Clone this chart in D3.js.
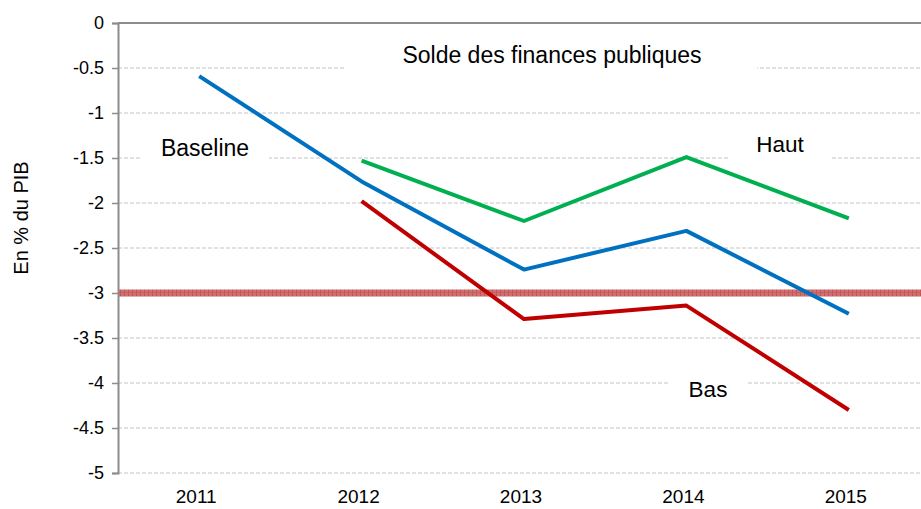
<!DOCTYPE html>
<html>
<head>
<meta charset="utf-8">
<script src="https://cdn.jsdelivr.net/npm/d3@7"></script>
<style>
  body { margin: 0; background: #fff; }
  svg { display: block; font-family: "Liberation Sans", Arial, sans-serif; }
</style>
</head>
<body>
<svg id="chart"></svg>
<script>
const years = ["2011", "2012", "2013", "2014", "2015"];
const baseline = [-0.59, -1.76, -2.74, -2.31, -3.23];
const haut = [null, -1.53, -2.2, -1.49, -2.17];
const bas = [null, -1.98, -3.29, -3.14, -4.3];
const seuil = -3;
const yTicks = [0, -0.5, -1, -1.5, -2, -2.5, -3, -3.5, -4, -4.5, -5];

const width = 921, height = 509;
const plotLeft = 118, plotTop = 23, plotBottom = 473, plotRight = 930;

const svg = d3.select("#chart").attr("width", width).attr("height", height);

const x = d3.scaleBand().domain(years).range([plotLeft, plotRight]);
const y = d3.scaleLinear().domain([-5, 0]).range([plotBottom, plotTop]);

// grid
svg.append("g")
  .selectAll("line")
  .data(yTicks.filter(d => d !== 0))
  .enter()
  .append("line")
  .attr("x1", plotLeft).attr("x2", width)
  .attr("y1", d => y(d)).attr("y2", d => y(d))
  .attr("stroke", "#c4c4c4")
  .attr("stroke-width", 1)
  .attr("stroke-dasharray", "4,2");

// top border
svg.append("line")
  .attr("x1", plotLeft).attr("x2", width)
  .attr("y1", y(0)).attr("y2", y(0))
  .attr("stroke", "#8c8c8c").attr("stroke-width", 2);

// y axis
const yAxis = svg.append("g")
  .attr("transform", `translate(${plotLeft},0)`)
  .call(d3.axisLeft(y).tickValues(yTicks).tickSize(6).tickPadding(8).tickFormat(d => d));
yAxis.select(".domain").attr("stroke", "#8c8c8c").attr("stroke-width", 2);
yAxis.selectAll(".tick line").attr("stroke", "#8c8c8c").attr("stroke-width", 1.5);
yAxis.selectAll("text").attr("font-size", 18).attr("fill", "#000")
  .attr("font-family", "Liberation Sans, Arial, sans-serif");

// x labels
svg.append("g")
  .selectAll("text")
  .data(years)
  .enter()
  .append("text")
  .attr("x", d => x(d) + x.bandwidth() / 2 - 3)
  .attr("y", 503)
  .attr("text-anchor", "middle")
  .attr("font-size", 19)
  .text(d => d);

// y title
svg.append("text")
  .attr("transform", "translate(28,218) rotate(-90)")
  .attr("text-anchor", "middle")
  .attr("font-size", 20)
  .text("En % du PIB");

// text boxes
const labels = [
  { t: "Solde des finances publiques", x0: 345, x1: 757, y0: 36, y1: 76, cx: 552, by: 63, fs: 23 },
  { t: "Baseline", x0: 141, x1: 269, y0: 128, y1: 168, cx: 205, by: 156, fs: 23 },
  { t: "Haut", x0: 729, x1: 831, y0: 124, y1: 164, cx: 780, by: 152, fs: 22.5 },
  { t: "Bas", x0: 668, x1: 748, y0: 370, y1: 408, cx: 708, by: 397, fs: 22.5 }
];
const lg = svg.append("g");
lg.selectAll("rect").data(labels).enter().append("rect")
  .attr("x", d => d.x0).attr("y", d => d.y0)
  .attr("width", d => d.x1 - d.x0).attr("height", d => d.y1 - d.y0)
  .attr("fill", "#fff");
lg.selectAll("text").data(labels).enter().append("text")
  .attr("x", d => d.cx).attr("y", d => d.by)
  .attr("text-anchor", "middle")
  .attr("font-size", d => d.fs)
  .text(d => d.t);

// -3 band
const defs = svg.append("defs");
const pat = defs.append("pattern")
  .attr("id", "hatch")
  .attr("patternUnits", "userSpaceOnUse")
  .attr("width", 4).attr("height", 4);
pat.append("rect").attr("width", 4).attr("height", 4).attr("fill", "#d07070");
pat.append("rect").attr("width", 1).attr("height", 4).attr("fill", "#c05555");
pat.append("rect").attr("width", 4).attr("height", 1).attr("fill", "#c66060");

svg.append("rect")
  .attr("x", plotLeft + 1)
  .attr("y", y(seuil) - 3.5)
  .attr("width", width - plotLeft)
  .attr("height", 7)
  .attr("fill", "url(#hatch)");

// series
const line = d3.line()
  .defined(d => d.v !== null)
  .x(d => x(d.k) + x.bandwidth() / 2)
  .y(d => y(d.v));

const series = [
  { vals: baseline, color: "#0070c0" },
  { vals: haut, color: "#00b050" },
  { vals: bas, color: "#c00000" }
];

svg.append("g")
  .selectAll("path")
  .data(series)
  .enter()
  .append("path")
  .attr("d", s => line(years.map((k, i) => ({ k: k, v: s.vals[i] }))))
  .attr("fill", "none")
  .attr("stroke", s => s.color)
  .attr("stroke-width", 4)
  .attr("stroke-linejoin", "round");
</script>
</body>
</html>
